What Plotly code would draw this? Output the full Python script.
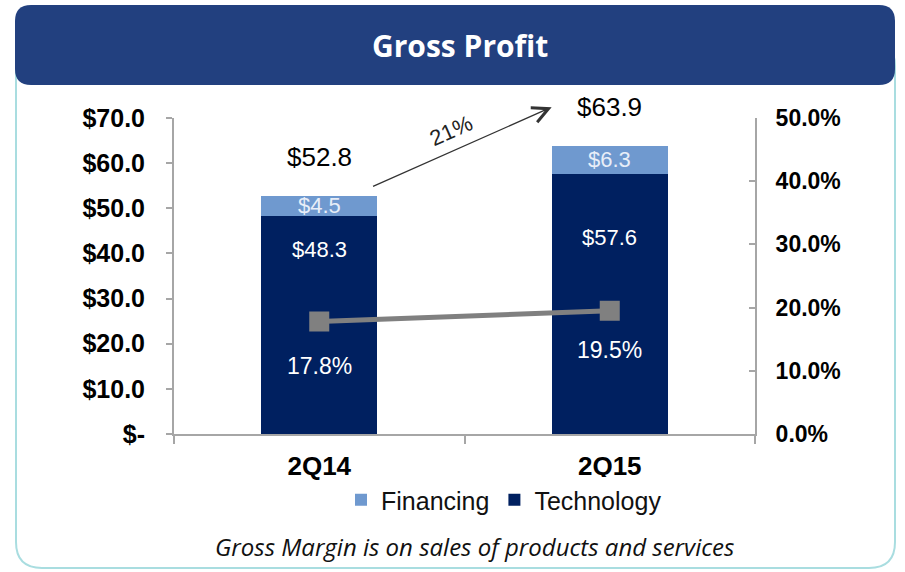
import plotly.graph_objects as go

categories = ["2Q14", "2Q15"]
technology = [48.3, 57.6]
financing = [4.5, 6.3]
totals = [52.8, 63.9]
margin_pct = [0.178, 0.195]
growth_label = "21%"

left_tickvals = [0, 10, 20, 30, 40, 50, 60, 70]
left_ticktext = ["$-", "$10.0", "$20.0", "$30.0", "$40.0", "$50.0", "$60.0", "$70.0"]

NAVY = "#002060"
LIGHT = "#6f99cf"
GRAY = "#808080"
AXIS = "#a6a6a6"
FONT = "Liberation Sans, Arial, sans-serif"

# plot area in pixels (for decoration shapes in paper coords)
L, R, T, B = 174, 755, 118, 434
W, H = 905, 572


def px(x):
    return (x - L) / (R - L)


def py(y):
    return (B - y) / (B - T)


def rounded(x0, y0, x1, y1, r):
    pts = [
        f"M {px(x0 + r)},{py(y0)}",
        f"L {px(x1 - r)},{py(y0)}",
        f"Q {px(x1)},{py(y0)} {px(x1)},{py(y0 + r)}",
        f"L {px(x1)},{py(y1 - r)}",
        f"Q {px(x1)},{py(y1)} {px(x1 - r)},{py(y1)}",
        f"L {px(x0 + r)},{py(y1)}",
        f"Q {px(x0)},{py(y1)} {px(x0)},{py(y1 - r)}",
        f"L {px(x0)},{py(y0 + r)}",
        f"Q {px(x0)},{py(y0)} {px(x0 + r)},{py(y0)}",
        "Z",
    ]
    return " ".join(pts)


fig = go.Figure()
fig.add_trace(go.Bar(x=categories, y=technology, name="Technology",
                     marker=dict(color=NAVY, line=dict(width=0)), width=0.4))
fig.add_trace(go.Bar(x=categories, y=financing, name="Financing",
                     marker=dict(color=LIGHT, line=dict(width=0)), width=0.4))
fig.add_trace(go.Scatter(x=categories, y=margin_pct, yaxis="y2", mode="lines+markers",
                         line=dict(color=GRAY, width=5),
                         marker=dict(symbol="square", size=20, color=GRAY),
                         showlegend=False))

ann = []
for i, c in enumerate(categories):
    ann.append(dict(x=i, y=totals[i], xref="x", yref="y", text=f"${totals[i]:.1f}",
                    showarrow=False, yanchor="bottom", yshift=22,
                    font=dict(family=FONT, size=26, color="black")))
    ann.append(dict(x=i, y=technology[i] + financing[i] / 2, xref="x", yref="y",
                    text=f"${financing[i]:.1f}", showarrow=False,
                    font=dict(family=FONT, size=22, color="#e8eef8")))
tech_shift = [-34, -64]
pct_shift = [-44, -39]
for i, c in enumerate(categories):
    ann.append(dict(x=i, y=technology[i], xref="x", yref="y", text=f"${technology[i]:.1f}",
                    showarrow=False, yshift=tech_shift[i],
                    font=dict(family=FONT, size=22, color="white")))
    ann.append(dict(x=i, y=margin_pct[i], xref="x", yref="y2", text=f"{margin_pct[i]*100:.1f}%",
                    showarrow=False, yshift=pct_shift[i],
                    font=dict(family=FONT, size=23, color="white")))

# growth arrow
ann.append(dict(x=0.80, y=72.4, xref="x", yref="y", ax=0.18, ay=54.7, axref="x", ayref="y",
                text="", showarrow=True, arrowhead=5, arrowsize=2.4, arrowwidth=1.3,
                arrowcolor="#333333"))
ann.append(dict(x=0.455, y=67.3, xref="x", yref="y", text=growth_label, showarrow=False,
                textangle=-24, font=dict(family=FONT, size=22, color="#222222")))

# title and caption
ann.append(dict(x=px(460), y=py(45), xref="paper", yref="paper", text="<b>Gross Profit</b>",
                xanchor="center", yanchor="middle",
                showarrow=False, font=dict(family="Open Sans, sans-serif", size=30, color="white")))
ann.append(dict(x=px(474), y=py(546), xref="paper", yref="paper",
                text="<i>Gross Margin is on sales of products and services</i>",
                xanchor="center", yanchor="middle",
                showarrow=False, font=dict(family="Open Sans, sans-serif", size=24, color="#111111")))

shapes = [
    dict(type="path", xref="paper", yref="paper", path=rounded(16, 40, 895, 568, 26),
         line=dict(color="#a9dde0", width=2), fillcolor="rgba(0,0,0,0)", layer="below"),
    dict(type="path", xref="paper", yref="paper", path=rounded(15, 5, 895, 85, 16),
         line=dict(width=0), fillcolor="#22407f", layer="above"),
]

fig.update_layout(
    width=W, height=H,
    margin=dict(l=L, r=W - R, t=T, b=H - B),
    paper_bgcolor="white", plot_bgcolor="white",
    barmode="stack", bargap=0.6,
    annotations=ann, shapes=shapes,
    legend=dict(orientation="h", x=px(504), xanchor="center", y=py(500), yanchor="middle",
                traceorder="reversed", font=dict(family=FONT, size=25, color="#111111"),
                itemwidth=30, tracegroupgap=0),
    xaxis=dict(type="category", showline=True, linecolor=AXIS, linewidth=2,
               ticks="outside", tickson="boundaries", ticklen=8, tickcolor=AXIS, tickwidth=2,
               tickfont=dict(family=FONT, size=26, color="black", weight="bold"),
               ticklabelstandoff=8, showgrid=False, range=[-0.5, 1.5]),
    yaxis=dict(range=[0, 70], tickvals=left_tickvals, ticktext=left_ticktext,
               showline=True, linecolor=AXIS, linewidth=2, ticks="outside", ticklen=6,
               tickcolor=AXIS, tickwidth=2, showgrid=False, zeroline=False,
               tickfont=dict(family=FONT, size=25, color="black", weight="bold"),
               ticklabelstandoff=16),
    yaxis2=dict(range=[0, 0.5], overlaying="y", side="right", tickformat=".1%", dtick=0.1,
                showline=True, linecolor=AXIS, linewidth=2, ticks="inside", ticklen=6,
                tickcolor=AXIS, tickwidth=2, showgrid=False, zeroline=False,
                tickfont=dict(family=FONT, size=23, color="black", weight="bold"),
                ticklabelstandoff=14),
)

fig.write_html("out.html", config={"displayModeBar": False},
               post_script="document.body.style.margin='0';")
